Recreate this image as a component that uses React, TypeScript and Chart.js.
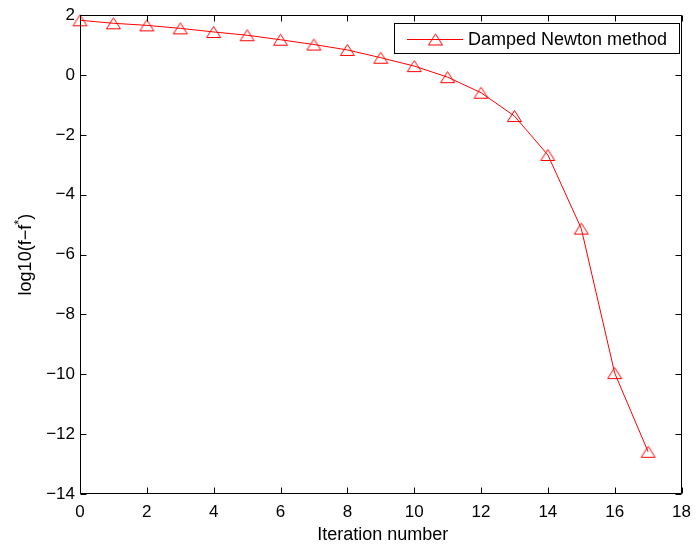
import React, { useEffect, useRef } from "react";
import { Chart, registerables } from "chart.js";

Chart.register(...registerables);

// ---- data ----
const iterations = [0, 1, 2, 3, 4, 5, 6, 7, 8, 9, 10, 11, 12, 13, 14, 15, 16, 17];
const logGap = [1.83, 1.73, 1.66, 1.56, 1.44, 1.33, 1.18, 1.02, 0.84, 0.58, 0.3, -0.07, -0.59, -1.37, -2.67, -5.13, -9.96, -12.59];
const xTickValues = [0, 2, 4, 6, 8, 10, 12, 14, 16, 18];
const yTickValues = [-14, -12, -10, -8, -6, -4, -2, 0, 2];
const seriesLabel = "Damped Newton method";
const xTitle = "Iteration number";
const yTitleMain = "log10(f\u2212f";
const yTitleSup = "*";
const yTitleEnd = ")";

const FONT = "'Liberation Sans', Arial, Helvetica, sans-serif";
const RED = "#ff0000";

function makeTriangle(color: string) {
  const c = document.createElement("canvas");
  c.width = 17;
  c.height = 14;
  const g = c.getContext("2d")!;
  g.strokeStyle = color;
  g.lineWidth = 1;
  g.beginPath();
  g.moveTo(8.5, 1.5);
  g.lineTo(15.5, 12.5);
  g.lineTo(1.5, 12.5);
  g.closePath();
  g.stroke();
  return c;
}

function fmt(v: number) {
  return v < 0 ? "\u2212" + Math.abs(v) : String(v);
}

export default function App() {
  const ref = useRef<HTMLCanvasElement | null>(null);

  useEffect(() => {
    if (!ref.current) return;
    const marker = makeTriangle(RED);

    const framePlugin = {
      id: "frame",
      afterDatasetsDraw(chart: any) {
        const { ctx, chartArea: a, scales } = chart;
        const xs = scales.x;
        const ys = scales.y;
        ctx.save();
        ctx.setLineDash([]);
        ctx.strokeStyle = "#000";
        ctx.lineWidth = 1;
        const L = Math.round(a.left) + 0.5;
        const R = Math.round(a.right) - 0.5;
        const T = Math.round(a.top) + 0.5;
        const B = Math.round(a.bottom) - 0.5;
        ctx.beginPath();
        ctx.rect(L, T, R - L, B - T);
        ctx.stroke();
        const tl = 6;
        ctx.beginPath();
        for (const v of xTickValues) {
          const px = Math.round(xs.getPixelForValue(v)) + 0.5;
          ctx.moveTo(px, B);
          ctx.lineTo(px, B - tl);
          ctx.moveTo(px, T);
          ctx.lineTo(px, T + tl);
        }
        for (const v of yTickValues) {
          const py = Math.round(ys.getPixelForValue(v)) + 0.5;
          ctx.moveTo(L, py);
          ctx.lineTo(L + tl, py);
          ctx.moveTo(R, py);
          ctx.lineTo(R - tl, py);
        }
        ctx.stroke();

        // legend
        const lx = 394.5, ly = 23.5, lw = 285, lh = 30;
        ctx.fillStyle = "#fff";
        ctx.fillRect(lx, ly, lw, lh);
        ctx.strokeStyle = "#000";
        ctx.strokeRect(lx, ly, lw, lh);
        const cy = Math.round(ly + lh / 2);
        ctx.fillStyle = RED;
        ctx.fillRect(407, cy, 56, 1);
        ctx.drawImage(marker, 427, cy + 0.5 - 7);
        ctx.fillStyle = "#000";
        ctx.font = `18px ${FONT}`;
        ctx.textAlign = "left";
        ctx.textBaseline = "middle";
        ctx.fillText(seriesLabel, 468, cy + 1);

        // x title
        ctx.textAlign = "center";
        ctx.textBaseline = "alphabetic";
        ctx.fillText(xTitle, (a.left + a.right) / 2 + 2, 540);

        // y title
        ctx.translate(31, (a.top + a.bottom) / 2);
        ctx.rotate(-Math.PI / 2);
        ctx.font = `18px ${FONT}`;
        const w1 = ctx.measureText(yTitleMain).width;
        const w3 = ctx.measureText(yTitleEnd).width;
        ctx.font = `13px ${FONT}`;
        const w2 = ctx.measureText(yTitleSup).width;
        const total = w1 + w2 + w3;
        let x0 = -total / 2;
        ctx.textAlign = "left";
        ctx.font = `18px ${FONT}`;
        ctx.fillText(yTitleMain, x0, 0);
        x0 += w1;
        ctx.font = `13px ${FONT}`;
        ctx.fillText(yTitleSup, x0, -8);
        x0 += w2;
        ctx.font = `18px ${FONT}`;
        ctx.fillText(yTitleEnd, x0, 0);
        ctx.restore();
      },
    };

    const chart = new Chart(ref.current, {
      type: "line",
      data: {
        datasets: [
          {
            label: seriesLabel,
            data: iterations.map((x, i) => ({ x, y: logGap[i] })),
            borderColor: RED,
            backgroundColor: RED,
            borderWidth: 1,
            pointStyle: marker as any,
            pointRadius: 8,
            pointHoverRadius: 8,
            fill: false,
            tension: 0,
            clip: false as any,
          },
        ],
      },
      options: {
        responsive: false,
        animation: false,
        events: [],
        layout: { padding: { left: 0, right: 11, top: 14, bottom: 0 } },
        plugins: { legend: { display: false }, tooltip: { enabled: false } },
        scales: {
          x: {
            type: "linear",
            min: 0,
            max: 18,
            grid: { display: false, drawTicks: false },
            border: { display: false },
            ticks: {
              stepSize: 2,
              autoSkip: false,
              maxRotation: 0,
              padding: 8,
              color: "#000",
              font: { size: 17, family: FONT },
              callback: (v: any) => fmt(Number(v)),
            },
            afterFit: (s: any) => {
              s.height = 51;
            },
          },
          y: {
            type: "linear",
            min: -14,
            max: 2,
            grid: { display: false, drawTicks: false },
            border: { display: false },
            ticks: {
              stepSize: 2,
              autoSkip: false,
              padding: 5,
              color: "#000",
              font: { size: 17, family: FONT },
              callback: (v: any) => fmt(Number(v)),
            },
            afterFit: (s: any) => {
              s.width = 80;
            },
          },
        },
      },
      plugins: [framePlugin],
    });
    return () => chart.destroy();
  }, []);

  return (
    <div style={{ position: "absolute", left: 0, top: 0, width: 699, height: 545, background: "#fff" }}>
      <canvas ref={ref} width={699} height={545} style={{ width: 699, height: 545 }} />
    </div>
  );
}
